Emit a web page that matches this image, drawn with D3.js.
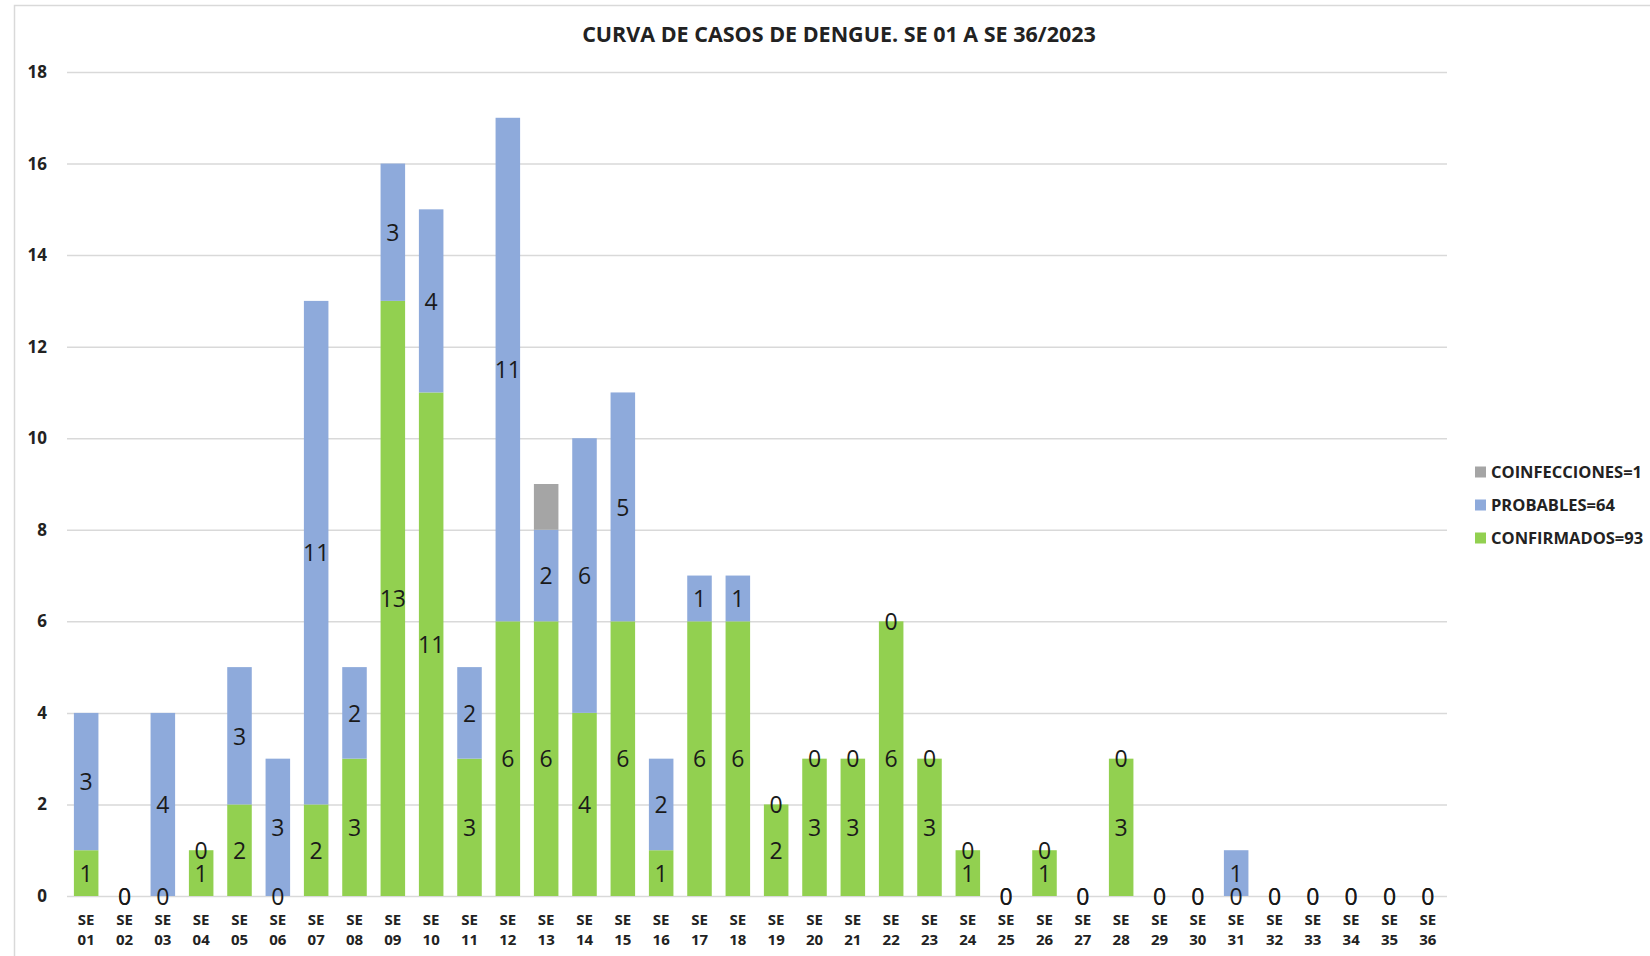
<!DOCTYPE html>
<html>
<head>
<meta charset="utf-8">
<script src="https://cdn.jsdelivr.net/npm/d3@7"></script>
<style>
  body { margin: 0; background: #fff; }
  svg text { font-family: "Open Sans", "DejaVu Sans", sans-serif; }
</style>
</head>
<body>
<div id="chart"></div>
<script>
// semanas epidemiologicas
var weeks = ["01","02","03","04","05","06","07","08","09","10","11","12","13","14","15","16","17","18",
             "19","20","21","22","23","24","25","26","27","28","29","30","31","32","33","34","35","36"];
var confirmados = [1,0,0,1,2,0,2,3,13,11,3,6,6,4,6,1,6,6,2,3,3,6,3,1,0,1,0,3,0,0,0,0,0,0,0,0];
var probables   = [3,0,4,0,3,3,11,2,3,4,2,11,2,6,5,2,1,1,0,0,0,0,0,0,0,0,0,0,0,0,1,0,0,0,0,0];
var coinfecciones = [0,0,0,0,0,0,0,0,0,0,0,0,1,0,0,0,0,0,0,0,0,0,0,0,0,0,0,0,0,0,0,0,0,0,0,0];
var yTicks = [0,2,4,6,8,10,12,14,16,18];
var legendItems = [
  {key: "coinf", label: "COINFECCIONES=1", color: "#a5a5a5"},
  {key: "prob", label: "PROBABLES=64", color: "#8eaadb"},
  {key: "conf", label: "CONFIRMADOS=93", color: "#92d050"}
];

var width = 1650, height = 956;
var margin = {top: 72, left: 67, right: 1447, bottom: 896};

var svg = d3.select("#chart").append("svg")
  .attr("width", width)
  .attr("height", height);

// marco del grafico
svg.append("rect")
  .attr("x", 14.5).attr("y", 5.5)
  .attr("width", width).attr("height", height)
  .attr("fill", "none")
  .attr("stroke", "#d9d9d9")
  .attr("stroke-width", 1.5);

svg.append("text")
  .attr("x", 839).attr("y", 42)
  .attr("text-anchor", "middle")
  .style("font-size", "21.5px")
  .style("font-weight", "bold")
  .attr("fill", "#222")
  .text("CURVA DE CASOS DE DENGUE. SE 01 A SE 36/2023");

var x = d3.scaleBand().domain(weeks).range([margin.left, margin.right]).paddingInner(0.36).paddingOuter(0.18);
var y = d3.scaleLinear().domain([0, 18]).range([margin.bottom, margin.top]);

// grid
svg.append("g").selectAll("line").data(yTicks).enter().append("line")
  .attr("x1", margin.left).attr("x2", margin.right)
  .attr("y1", d => y(d) + 0.5).attr("y2", d => y(d) + 0.5)
  .attr("stroke", "#d9d9d9").attr("stroke-width", 1.5);

var yAxis = svg.append("g")
  .attr("transform", "translate(47,0)")
  .call(d3.axisLeft(y).tickValues(yTicks).tickSize(0).tickPadding(0));
yAxis.select(".domain").remove();
yAxis.selectAll("text")
  .style("font-size", "17px").style("font-weight", "bold")
  .attr("fill", "#222");

var xAxis = svg.append("g")
  .attr("transform", "translate(0," + margin.bottom + ")")
  .call(d3.axisBottom(x).tickSize(0).tickFormat(""));
xAxis.select(".domain").remove();
xAxis.selectAll(".tick").each(function(d) {
  var t = d3.select(this).append("text")
    .attr("text-anchor", "middle")
    .attr("fill", "#222")
    .style("font-size", "15px").style("font-weight", "bold");
  t.append("tspan").attr("x", 0).attr("y", 29).text("SE");
  t.append("tspan").attr("x", 0).attr("y", 49).text(d);
});

var rows = weeks.map((w, i) => ({week: w, conf: confirmados[i], prob: probables[i], coinf: coinfecciones[i]}));
var stack = d3.stack().keys(["conf", "prob", "coinf"])(rows);
var colors = {conf: "#92d050", prob: "#8eaadb", coinf: "#a5a5a5"};

var layers = svg.append("g").selectAll("g.layer").data(stack).enter().append("g")
  .attr("class", "layer")
  .attr("fill", d => colors[d.key]);

layers.selectAll("rect").data(d => d).enter().append("rect")
  .attr("x", d => x(d.data.week))
  .attr("width", x.bandwidth())
  .attr("y", d => y(d[1]))
  .attr("height", d => y(d[0]) - y(d[1]));

// etiquetas (sin etiquetas para coinfecciones)
var labelLayers = stack.filter(s => s.key != "coinf");
svg.append("g").selectAll("g").data(labelLayers).enter().append("g")
  .selectAll("text").data(d => d).enter().append("text")
  .attr("x", d => x(d.data.week) + x.bandwidth() / 2)
  .attr("y", d => y((d[0] + d[1]) / 2))
  .attr("dy", "0.38em")
  .attr("text-anchor", "middle")
  .attr("fill", "#1a1a1a")
  .style("font-size", "23px")
  .text(d => d[1] - d[0]);

// leyenda
var legend = svg.append("g").selectAll("g").data(legendItems).enter().append("g")
  .attr("transform", (d, i) => "translate(1475," + (472 + i * 33) + ")");
legend.append("rect")
  .attr("x", 0).attr("y", -5.5).attr("width", 11).attr("height", 11)
  .attr("fill", d => d.color);
legend.append("text")
  .attr("x", 16).attr("dy", "0.35em")
  .attr("fill", "#222")
  .style("font-size", "16.5px").style("font-weight", "bold")
  .text(d => d.label);
</script>
</body>
</html>
